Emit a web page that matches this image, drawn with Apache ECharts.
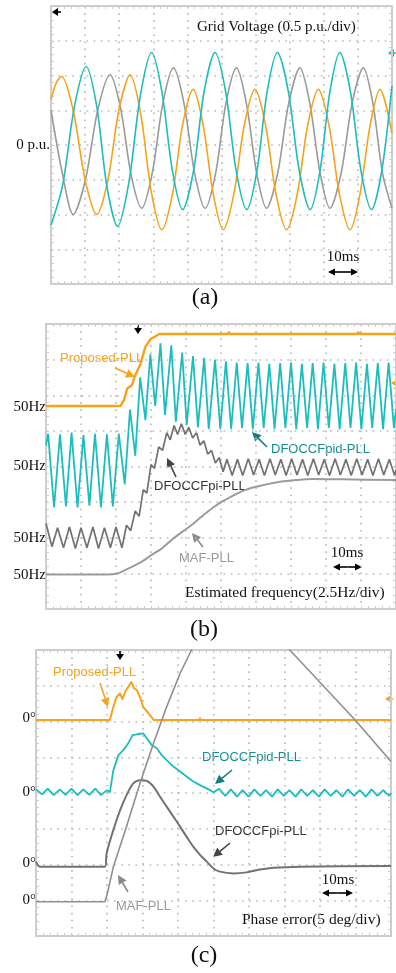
<!DOCTYPE html>
<html>

<head>
	<meta charset="UTF-8">
	<title></title>
	<style>
		body {
			margin: 0;
			background: #fff;
		}

		#main {
			width: 396px;
			height: 973px;
		}
	</style>
	<script src="https://cdn.jsdelivr.net/npm/echarts@6/dist/echarts.min.js"></script>
</head>

<body>
	<div id="main"></div>
	<script>
		// (a) grid voltage, x in divisions, y in p.u.
		var voltCyan = [[0, -1.15], [0.34, -0.58], [0.69, 0.56], [1.03, 1.13], [1.34, 0.56], [1.64, -0.60], [1.95, -1.17], [2.28, -0.55], [2.62, 0.71], [2.95, 1.33], [3.25, 0.77], [3.56, -0.37], [3.86, -0.93], [4.18, -0.37], [4.49, 0.77], [4.81, 1.33], [5.12, 0.77], [5.43, -0.37], [5.74, -0.93], [6.04, -0.37], [6.34, 0.77], [6.64, 1.33], [6.96, 0.77], [7.28, -0.37], [7.60, -0.93], [7.89, -0.37], [8.18, 0.77], [8.47, 1.33], [8.78, 0.77], [9.09, -0.37], [9.40, -0.93], [9.70, -0.37], [10, 0.85]];
		var voltOrange = [[0, 0.65], [0.16, 0.90], [0.31, 0.99], [0.65, 0.50], [1.00, -0.50], [1.34, -1.00], [1.67, -0.50], [1.99, 0.50], [2.32, 1.01], [2.63, 0.45], [2.94, -0.67], [3.25, -1.22], [3.56, -0.71], [3.86, 0.29], [4.17, 0.80], [4.46, 0.29], [4.76, -0.71], [5.05, -1.22], [5.36, -0.71], [5.67, 0.29], [5.98, 0.80], [6.29, 0.29], [6.60, -0.71], [6.91, -1.22], [7.22, -0.71], [7.53, 0.29], [7.84, 0.80], [8.15, 0.29], [8.46, -0.71], [8.77, -1.22], [9.06, -0.71], [9.36, 0.29], [9.65, 0.80], [10, 0.17]];
		var voltGray = [[0, 0.50], [0.33, -0.40], [0.65, -1.00], [1.01, -0.50], [1.37, 0.50], [1.73, 1.01], [2.04, 0.53], [2.35, -0.43], [2.66, -0.91], [2.97, -0.40], [3.28, 0.60], [3.59, 1.11], [3.90, 0.60], [4.21, -0.40], [4.52, -0.91], [4.83, -0.40], [5.13, 0.60], [5.44, 1.11], [5.73, 0.60], [6.03, -0.40], [6.32, -0.91], [6.65, -0.40], [6.97, 0.60], [7.30, 1.11], [7.59, 0.60], [7.89, -0.40], [8.18, -0.91], [8.51, -0.40], [8.83, 0.60], [9.16, 1.11], [9.44, 0.60], [9.72, -0.40], [10, -0.91]];

		// (b) estimated frequency, divisions
		var freqProposed = [[0, 5.70], [2.13, 5.70], [2.23, 5.87], [2.32, 6.19], [2.46, 6.29], [2.55, 6.57], [2.69, 6.85], [2.84, 7.36], [2.98, 7.57], [3.24, 7.72], [5.2, 7.72], [5.22, 7.78], [5.25, 7.72], [8.9, 7.72], [8.92, 7.78], [8.95, 7.72], [10, 7.72]];
		var freqPid = [[0, 4.60], [0.06, 4.92], [0.23, 2.85], [0.40, 4.90], [0.57, 2.88], [0.73, 4.95], [0.90, 2.85], [1.07, 4.88], [1.24, 2.90], [1.40, 4.92], [1.57, 2.85], [1.74, 4.90], [1.91, 2.88], [2.08, 4.92], [2.25, 3.50], [2.40, 5.60], [2.55, 4.30], [2.69, 6.50], [2.84, 5.30], [2.98, 7.15], [3.12, 5.70], [3.27, 7.46], [3.40, 5.45], [3.58, 7.40], [3.71, 5.26], [3.89, 7.20], [4.02, 5.17], [4.20, 7.10], [4.34, 5.10], [4.52, 7.05], [4.65, 5.05], [4.83, 7.00], [4.98, 5.05], [5.14, 6.95], [5.29, 5.05], [5.45, 6.92], [5.60, 5.08], [5.76, 6.90], [5.91, 5.05], [6.07, 6.92], [6.22, 5.08], [6.38, 6.88], [6.53, 5.05], [6.69, 6.90], [6.84, 5.08], [7.00, 6.92], [7.15, 5.05], [7.31, 6.88], [7.46, 5.08], [7.62, 6.90], [7.77, 5.05], [7.93, 6.92], [8.08, 5.08], [8.24, 6.88], [8.39, 5.05], [8.55, 6.90], [8.70, 5.08], [8.86, 6.92], [9.01, 5.05], [9.17, 6.88], [9.32, 5.08], [9.48, 6.90], [9.63, 5.05], [9.79, 6.92], [9.94, 5.08], [10, 5.60]];
		var freqPi = [[0, 2.40], [0.17, 1.75], [0.33, 2.28], [0.50, 1.72], [0.67, 2.30], [0.84, 1.70], [1.00, 2.28], [1.17, 1.72], [1.34, 2.30], [1.50, 1.70], [1.67, 2.28], [1.84, 1.72], [2.00, 2.30], [2.17, 1.72], [2.30, 2.35], [2.42, 2.20], [2.55, 2.75], [2.66, 2.60], [2.78, 3.35], [2.88, 3.25], [3.00, 4.05], [3.10, 3.95], [3.22, 4.55], [3.33, 4.45], [3.45, 4.95], [3.55, 4.75], [3.66, 5.15], [3.76, 4.90], [3.87, 5.20], [3.98, 4.90], [4.08, 5.10], [4.19, 4.80], [4.30, 4.95], [4.40, 4.60], [4.51, 4.72], [4.62, 4.35], [4.73, 4.45], [4.84, 4.10], [4.95, 4.25], [5.06, 3.85], [5.17, 4.20], [5.32, 3.75], [5.47, 4.20], [5.62, 3.75], [5.78, 4.22], [5.93, 3.76], [6.09, 4.20], [6.24, 3.75], [6.40, 4.22], [6.55, 3.76], [6.71, 4.20], [6.86, 3.75], [7.02, 4.22], [7.17, 3.76], [7.33, 4.20], [7.48, 3.75], [7.64, 4.22], [7.79, 3.76], [7.95, 4.20], [8.10, 3.75], [8.26, 4.22], [8.41, 3.76], [8.57, 4.20], [8.72, 3.75], [8.88, 4.22], [9.03, 3.76], [9.19, 4.20], [9.34, 3.75], [9.50, 4.22], [9.65, 3.76], [9.81, 4.20], [9.96, 3.75], [10, 3.90]];
		var freqMaf = [[0, 0.97], [1.80, 0.97], [2.00, 0.99], [2.18, 1.05], [2.46, 1.19], [2.74, 1.33], [3.02, 1.52], [3.31, 1.70], [3.59, 1.94], [3.87, 2.15], [4.15, 2.35], [4.43, 2.58], [4.71, 2.80], [5.00, 3.00], [5.28, 3.15], [5.56, 3.29], [5.84, 3.39], [6.22, 3.48], [6.69, 3.57], [7.15, 3.62], [7.62, 3.65], [8.50, 3.64], [10, 3.62]];

		// (c) phase error, divisions
		var phaseProposed = [[0, 6.04], [2.08, 6.04], [2.18, 6.41], [2.27, 6.69], [2.37, 6.79], [2.43, 6.62], [2.51, 6.83], [2.60, 6.97], [2.69, 7.11], [2.76, 6.93], [2.84, 6.88], [2.93, 6.68], [3.02, 6.41], [3.12, 6.29], [3.21, 6.18], [3.32, 6.04], [4.6, 6.04], [4.62, 6.1], [4.64, 6.04], [10, 6.04]];
		var phasePid = [[0, 4.10], [0.17, 3.96], [0.33, 4.12], [0.50, 3.94], [0.67, 4.10], [0.83, 3.95], [1.00, 4.12], [1.17, 3.94], [1.33, 4.10], [1.50, 3.95], [1.67, 4.12], [1.83, 3.94], [2.00, 4.08], [2.08, 4.02], [2.18, 4.64], [2.32, 5.06], [2.46, 5.20], [2.60, 5.39], [2.72, 5.62], [2.88, 5.65], [3.02, 5.67], [3.12, 5.53], [3.26, 5.34], [3.40, 5.25], [3.54, 5.06], [3.68, 4.92], [3.87, 4.74], [4.06, 4.60], [4.24, 4.46], [4.43, 4.32], [4.62, 4.22], [4.81, 4.13], [5.00, 4.02], [5.16, 4.12], [5.33, 3.92], [5.49, 4.10], [5.66, 3.90], [5.82, 4.08], [5.99, 3.90], [6.15, 4.10], [6.32, 3.92], [6.48, 4.08], [6.65, 3.90], [6.81, 4.10], [6.98, 3.92], [7.14, 4.08], [7.31, 3.90], [7.47, 4.10], [7.64, 3.92], [7.80, 4.08], [7.97, 3.90], [8.13, 4.10], [8.30, 3.92], [8.46, 4.08], [8.63, 3.90], [8.79, 4.10], [8.96, 3.92], [9.12, 4.08], [9.29, 3.90], [9.45, 4.10], [9.62, 3.92], [9.78, 4.08], [9.95, 3.92], [10, 4.00]];
		var phasePi = [[0, 2.08], [0.11, 1.94], [1.94, 1.94], [1.99, 2.31], [2.18, 2.97], [2.37, 3.52], [2.55, 3.94], [2.74, 4.27], [2.93, 4.36], [3.12, 4.34], [3.31, 4.18], [3.49, 3.90], [3.68, 3.62], [3.87, 3.34], [4.06, 3.06], [4.24, 2.78], [4.43, 2.50], [4.62, 2.27], [4.81, 2.08], [5.00, 1.89], [5.18, 1.80], [5.56, 1.75], [5.93, 1.78], [6.31, 1.86], [6.69, 1.91], [7.44, 1.94], [10, 1.96]];
		var phaseMaf = [[0, 0.96], [1.94, 0.96], [2.01, 1.19], [2.18, 1.94], [2.55, 3.06], [2.93, 4.27], [3.31, 5.39], [3.68, 6.41], [4.06, 7.35], [4.38, 8.0], [5.17, 10.2], [7.15, 8.0], [8.99, 6.04], [10, 4.88]];

		var ORANGE = '#f8a21a', CYAN = '#1dbdbd', DARK = '#727272', LIGHT = '#9c9c9c';
		var SERIF = "'Liberation Serif', 'Times New Roman', serif";
		var SANS = "'Liberation Sans', Arial, sans-serif";
		var FRAME = '#cdcdcd', DOT = '#bcbcbc';

		var myChart = echarts.init(document.getElementById('main'), null, { renderer: 'canvas' });

		var grids = [
			{ left: 51, top: 6, width: 341, height: 278 },
			{ left: 46, top: 324, width: 355, height: 285 },
			{ left: 36, top: 650, width: 355, height: 286 }
		];
		var yRanges = [[-2, 2, 0.5], [0, 8, 1], [0, 8, 1]];

		var xAxes = [], yAxes = [];
		grids.forEach(function (g, i) {
			['bottom', 'top'].forEach(function (pos, k) {
				xAxes.push({
					type: 'value', gridIndex: i, position: pos, min: 0, max: 10, interval: 1,
					axisLine: { onZero: false, lineStyle: { color: FRAME, width: 2 } },
					axisTick: { inside: true, length: 3, lineStyle: { color: FRAME } },
					minorTick: { show: true, splitNumber: 5, length: 3, lineStyle: { color: FRAME } },
					axisLabel: { show: false },
					splitLine: { show: k === 0, lineStyle: { color: DOT, width: 1.7, type: [1.7, 5.4] } }
				});
			});
			['left', 'right'].forEach(function (pos, k) {
				var r = yRanges[i];
				yAxes.push({
					type: 'value', gridIndex: i, position: pos, min: r[0], max: r[1], interval: r[2],
					axisLine: { onZero: false, lineStyle: { color: FRAME, width: 2 } },
					axisTick: { inside: true, length: 3, lineStyle: { color: FRAME } },
					minorTick: { show: true, splitNumber: 5, length: 3, lineStyle: { color: FRAME } },
					axisLabel: { show: false },
					splitLine: { show: k === 0, lineStyle: { color: DOT, width: 1.7, type: [1.7, 5.4] } }
				});
			});
		});

		function wave(data, grid, color, width, smooth) {
			return {
				type: 'line', data: data, xAxisIndex: grid * 2, yAxisIndex: grid * 2,
				showSymbol: false, smooth: smooth, clip: true,
				lineStyle: { color: color, width: width }
			};
		}

		function arrow(x1, y1, x2, y2, color, hl, hw) {
			var a = Math.atan2(y2 - y1, x2 - x1);
			var bx = x2 - hl * Math.cos(a), by = y2 - hl * Math.sin(a);
			var px = -Math.sin(a) * hw, py = Math.cos(a) * hw;
			return [
				{ type: 'line', shape: { x1: x1, y1: y1, x2: bx, y2: by }, style: { stroke: color, lineWidth: 1.6 } },
				{ type: 'polygon', shape: { points: [[x2, y2], [bx + px, by + py], [bx - px, by - py]] }, style: { fill: color } }
			];
		}

		function dblArrow(x1, x2, y) {
			return arrow((x1 + x2) / 2, y, x1, y, '#000', 7, 3.5).concat(arrow((x1 + x2) / 2, y, x2, y, '#000', 7, 3.5));
		}

		function txt(x, y, s, opt) {
			return {
				type: 'text', x: x, y: y,
				style: {
					text: s, fill: opt.color || '#111', font: (opt.size || 15) + 'px ' + (opt.font || SERIF),
					textAlign: opt.align || 'left', textVerticalAlign: 'middle'
				}
			};
		}

		var g = [];
		// panel (a)
		g.push(txt(197, 27, 'Grid Voltage (0.5 p.u./div)', {}));
		g.push(txt(50, 145, '0 p.u.', { align: 'right' }));
		g.push(txt(343, 257, '10ms', { align: 'center' }));
		g = g.concat(dblArrow(328, 358, 272));
		g = g.concat(arrow(61, 12, 52, 12, '#000', 6, 4));
		g = g.concat(arrow(397, 53, 388, 53, CYAN, 6, 4));
		g.push(txt(205, 298, '(a)', { size: 24, align: 'center' }));

		// panel (b)
		['50Hz', '50Hz', '50Hz', '50Hz'].forEach(function (s, i) {
			g.push(txt(46, [407, 466, 538, 575][i], s, { align: 'right' }));
		});
		g.push(txt(60, 358, 'Proposed-PLL', { font: SANS, size: 13, color: ORANGE }));
		g = g.concat(arrow(115, 368, 135, 377, ORANGE, 9, 4.5));
		g.push(txt(271, 449, 'DFOCCFpid-PLL', { font: SANS, size: 13, color: '#17908f' }));
		g = g.concat(arrow(267, 447, 252, 432, '#137f7f', 9, 4.5));
		g.push(txt(154, 486, 'DFOCCFpi-PLL', { font: SANS, size: 13, color: '#333' }));
		g = g.concat(arrow(176, 477, 167, 458, '#444', 9, 4.5));
		g.push(txt(179, 558, 'MAF-PLL', { font: SANS, size: 13, color: '#999' }));
		g = g.concat(arrow(203, 547, 192, 533, '#8a8a8a', 9, 4.5));
		g.push(txt(347, 553, '10ms', { align: 'center' }));
		g = g.concat(dblArrow(333, 362, 567));
		g.push(txt(185, 593, 'Estimated frequency(2.5Hz/div)', { size: 15.5 }));
		g = g.concat(arrow(138, 325, 138, 334, '#000', 6, 4));
		g = g.concat(arrow(398, 383, 391, 383, ORANGE, 6, 4));
		g.push(txt(204, 630, '(b)', { size: 24, align: 'center' }));

		// panel (c)
		['0°', '0°', '0°', '0°'].forEach(function (s, i) {
			g.push(txt(36, [718, 792, 863, 900][i], s, { align: 'right' }));
		});
		g.push(txt(53, 672, 'Proposed-PLL', { font: SANS, size: 13, color: ORANGE }));
		g = g.concat(arrow(100, 683, 108, 707, ORANGE, 9, 4.5));
		g.push(txt(202, 757, 'DFOCCFpid-PLL', { font: SANS, size: 13, color: '#17908f' }));
		g = g.concat(arrow(232, 770, 215, 784, '#137f7f', 9, 4.5));
		g.push(txt(215, 831, 'DFOCCFpi-PLL', { font: SANS, size: 13, color: '#333' }));
		g = g.concat(arrow(230, 843, 213, 857, '#444', 9, 4.5));
		g.push(txt(116, 906, 'MAF-PLL', { font: SANS, size: 13, color: '#999' }));
		g = g.concat(arrow(128, 892, 118, 875, '#8a8a8a', 9, 4.5));
		g.push(txt(338, 880, '10ms', { align: 'center' }));
		g = g.concat(dblArrow(322, 353, 893));
		g.push(txt(242, 920, 'Phase error(5 deg/div)', { size: 15.5 }));
		g = g.concat(arrow(120, 651, 120, 660, '#000', 6, 4));
		g = g.concat(arrow(393, 699, 385, 699, ORANGE, 6, 4));
		g.push(txt(204, 956, '(c)', { size: 24, align: 'center' }));

		myChart.setOption({
			animation: false,
			backgroundColor: '#fff',
			grid: grids,
			xAxis: xAxes,
			yAxis: yAxes,
			series: [
				wave(voltGray, 0, '#9a9a9a', 1.6, 0.3),
				wave(voltOrange, 0, ORANGE, 1.6, 0.3),
				wave(voltCyan, 0, CYAN, 1.6, 0.3),

				wave(freqMaf, 1, LIGHT, 2, 0.3),
				wave(freqPi, 1, DARK, 1.7, false),
				wave(freqPid, 1, CYAN, 1.8, false),
				wave(freqProposed, 1, ORANGE, 2.4, false),

				wave(phasePi, 2, DARK, 2, 0.3),
				wave(phasePid, 2, CYAN, 1.8, false),
				wave(phaseProposed, 2, ORANGE, 2, false),
				wave(phaseMaf, 2, '#8f8f8f', 1.6, false)
			],
			graphic: g
		});
	</script>
</body>

</html>
